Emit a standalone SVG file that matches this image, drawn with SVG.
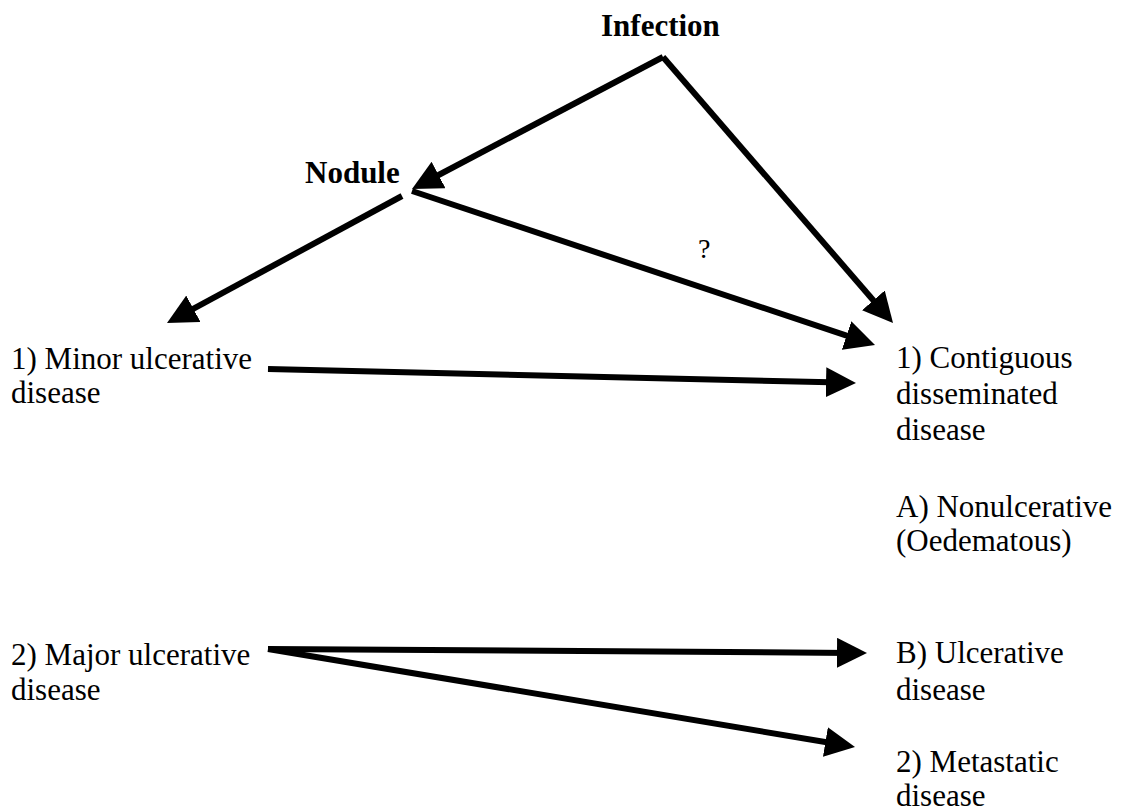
<svg xmlns="http://www.w3.org/2000/svg" width="1123" height="812" viewBox="0 0 1123 812">
<style>
text{font-family:"Liberation Serif","Times New Roman",serif;font-size:31px;fill:#000}
.b{font-weight:bold}
.c line{stroke:#000;stroke-width:6;marker-end:url(#ah)}
</style>
<defs>
<marker id="ah" markerUnits="userSpaceOnUse" markerWidth="30" markerHeight="30" refX="15" refY="15" orient="auto">
<path d="M0,0 L30,15 L0,30 z" fill="#000"/>
</marker>
</defs>
<rect width="1123" height="812" fill="#fff"/>
<g id="connectors" class="c">
<line x1="663" y1="57" x2="425.3" y2="182"/>
<line x1="663" y1="57" x2="883.2" y2="311.7"/>
<line x1="412" y1="191" x2="860.8" y2="340.3"/>
<line x1="402" y1="196" x2="180.2" y2="315.9"/>
<line x1="268" y1="369" x2="841" y2="382.6"/>
<line x1="268" y1="649" x2="852" y2="652.9"/>
<line x1="268" y1="649" x2="840.2" y2="744.5"/>
<text x="698" y="258" style="font-size:28px">?</text>
</g>
<g id="infection"><text class="b" x="601" y="36">Infection</text></g>
<g id="nodule"><text class="b" x="305" y="183">Nodule</text></g>
<g id="minor"><text x="11" y="369">1) Minor ulcerative</text><text x="11" y="403">disease</text></g>
<g id="major"><text x="11" y="665">2) Major ulcerative</text><text x="11" y="700">disease</text></g>
<g id="contiguous"><text x="896" y="368">1) Contiguous</text><text x="896" y="404">disseminated</text><text x="896" y="440">disease</text></g>
<g id="nonulcerative"><text x="896" y="517">A) Nonulcerative</text><text x="896" y="551">(Oedematous)</text></g>
<g id="ulcerative"><text x="896" y="663">B) Ulcerative</text><text x="896" y="700">disease</text></g>
<g id="metastatic"><text x="896" y="772">2) Metastatic</text><text x="896" y="806">disease</text></g>
</svg>
